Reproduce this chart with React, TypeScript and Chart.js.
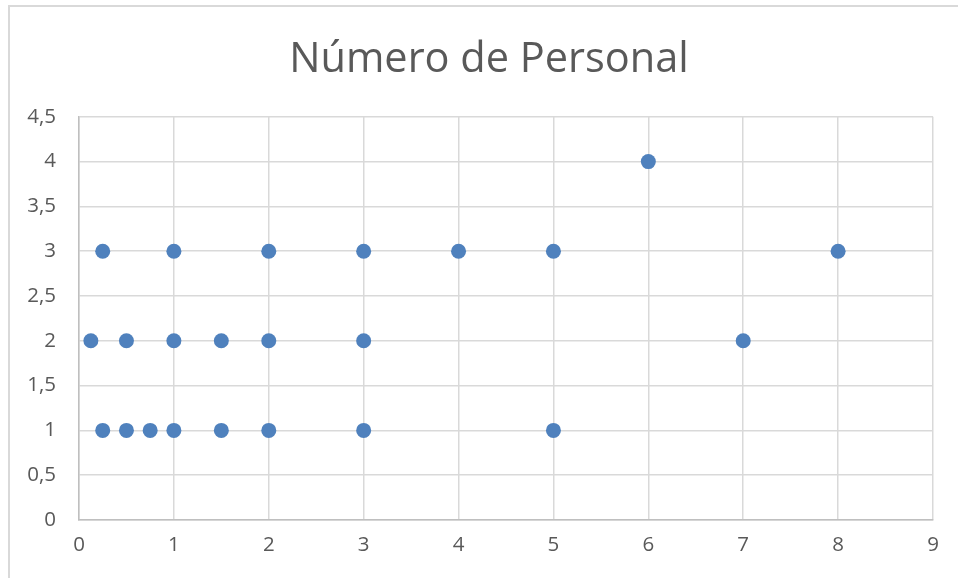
import React, { useEffect, useRef } from "react";
import { Chart, registerables } from "chart.js";

Chart.register(...registerables);

const chartTitle = "Número de Personal";
const xValues = [0.25, 1, 2, 3, 4, 5, 8, 6, 0.125, 0.5, 1, 1.5, 2, 3, 7, 0.25, 0.5, 0.75, 1, 1.5, 2, 3, 5];
const yValues = [3, 3, 3, 3, 3, 3, 3, 4, 2, 2, 2, 2, 2, 2, 2, 1, 1, 1, 1, 1, 1, 1, 1];
const xTicks = { min: 0, max: 9, step: 1 };
const yTicks = { min: 0, max: 4.5, step: 0.5 };

const centerTitle = {
  id: "centerTitle",
  afterLayout(chart: any) {
    const t = chart.titleBlock;
    if (t) {
      t.left = 45;
      t.right = 933;
    }
  },
};

export default function App() {
  const ref = useRef<HTMLCanvasElement | null>(null);
  useEffect(() => {
    if (!ref.current) return;
    const font = "'Open Sans', sans-serif";
    const chart = new Chart(ref.current, {
      type: "scatter",
      data: {
        datasets: [
          {
            label: chartTitle,
            data: xValues.map((x, i) => ({ x, y: yValues[i] })),
            backgroundColor: "#4F81BD",
            borderColor: "#4F81BD",
            pointRadius: 7.5,
            pointHoverRadius: 7.5,
            borderWidth: 0,
          },
        ],
      },
      plugins: [centerTitle],
      options: {
        animation: false,
        responsive: false,
        layout: { padding: { left: 10, right: 25, top: 0, bottom: 10 } },
        plugins: {
          legend: { display: false },
          tooltip: { enabled: false },
          title: {
            display: true,
            text: chartTitle,
            color: "#595959",
            font: { family: font, size: 41.5, weight: "normal" },
            padding: { top: 35, bottom: 32 },
          },
        },
        scales: {
          x: {
            type: "linear",
            min: xTicks.min,
            max: xTicks.max,
            afterFit: (s: any) => { s.height = 48; },
            ticks: {
              stepSize: xTicks.step,
              color: "#595959",
              font: { family: font, size: 20.5 },
              padding: 13,
            },
            grid: { color: "#d9d9d9", lineWidth: 1.5, drawTicks: false },
            border: { color: "#bfbfbf", width: 1.5 },
          },
          y: {
            type: "linear",
            min: yTicks.min,
            max: yTicks.max,
            afterFit: (s: any) => { s.width = 69; },
            ticks: {
              stepSize: yTicks.step,
              color: "#595959",
              font: { family: font, size: 20.5 },
              padding: 23,
              callback: (v: any) => String(v).replace(".", ","),
            },
            grid: { color: "#d9d9d9", lineWidth: 1.5, drawTicks: false },
            border: { color: "#bfbfbf", width: 1.5 },
          },
        },
      },
    });
    return () => chart.destroy();
  }, []);
  return (
    <div style={{ position: "absolute", left: 0, top: 0, width: 958, height: 578, background: "#fff", overflow: "hidden" }}>
      <div style={{ position: "absolute", left: 8, top: 5, width: 980, height: 600, border: "2px solid #d9d9d9", boxSizing: "border-box" }} />
      <canvas ref={ref} width={958} height={578} style={{ position: "absolute", left: 0, top: 0 }} />
    </div>
  );
}
